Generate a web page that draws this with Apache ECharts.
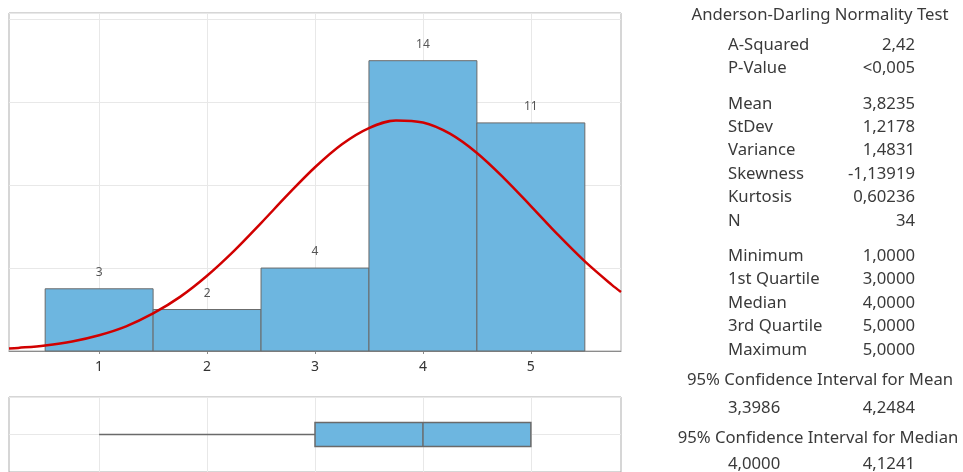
<!DOCTYPE html>
<html>
<head>
<meta charset="utf-8">
<script src="https://cdn.jsdelivr.net/npm/echarts@6/dist/echarts.min.js"></script>
<style>
  html, body { margin: 0; padding: 0; background: #fff; }
  #chart { width: 963px; height: 472px; }
</style>
</head>
<body>
<div id="chart"></div>
<script>
// histogram bins (centre, count)
const binCenters = [1, 2, 3, 4, 5];
const binCounts = [3, 2, 4, 14, 11];
const binWidth = 1;
const xTicks = [1, 2, 3, 4, 5];

// fitted normal curve
const curveX = [0.165, 0.25, 0.5, 0.75, 1, 1.25, 1.5, 1.75, 2, 2.25, 2.5, 2.75, 3, 3.25, 3.5, 3.75, 4, 4.25, 4.5, 4.75, 5, 5.25, 5.5, 5.75, 5.835];
const curveY = [0.12, 0.15, 0.27, 0.46, 0.76, 1.19, 1.81, 2.61, 3.63, 4.83, 6.17, 7.55, 8.86, 9.97, 10.75, 11.12, 11.02, 10.48, 9.55, 8.34, 6.99, 5.61, 4.32, 3.19, 2.85];

// boxplot: min, Q1, median, Q3, max
const boxStats = [1, 3, 4, 5, 5];

// summary panel
const testTitle = "Anderson-Darling Normality Test";
const statLabels = ["A-Squared", "P-Value", "Mean", "StDev", "Variance", "Skewness", "Kurtosis", "N",
  "Minimum", "1st Quartile", "Median", "3rd Quartile", "Maximum"];
const statValues = ["2,42", "<0,005", "3,8235", "1,2178", "1,4831", "-1,13919", "0,60236", "34",
  "1,0000", "3,0000", "4,0000", "5,0000", "5,0000"];
const statGroups = [0, 0, 1, 1, 1, 1, 1, 1, 2, 2, 2, 2, 2];
const ciMeanTitle = "95% Confidence Interval for Mean";
const ciMean = ["3,3986", "4,2484"];
const ciMedianTitle = "95% Confidence Interval for Median";
const ciMedian = ["4,0000", "4,1241"];

const FONT = '"Noto Sans", "Open Sans", sans-serif';
const PANEL_FONT = "16.7px " + FONT;
const TXT = "#3a3a3a";
const X_MIN = 0.165, X_MAX = 5.835;

const chart = echarts.init(document.getElementById("chart"));

// text panel on the right
const graphics = [];
const labelX = 728, valueX = 915, centerX = 820;
const addText = (text, x, y, align) => {
  graphics.push({ type: "text", x: x, y: y, style: { text: text, font: PANEL_FONT, fill: TXT, align: align, verticalAlign: "middle" } });
};
addText(testTitle, centerX, 15, "center");
statLabels.forEach((lab, i) => {
  const y = 45 + i * 23.4 + statGroups[i] * 12;
  addText(lab, labelX, y, "left");
  addText(statValues[i], valueX, y, "right");
});
addText(ciMeanTitle, centerX, 380, "center");
addText(ciMean[0], labelX, 408, "left");
addText(ciMean[1], valueX, 408, "right");
addText(ciMedianTitle, 818, 438, "center");
addText(ciMedian[0], labelX, 464, "left");
addText(ciMedian[1], valueX, 464, "right");

const option = {
  animation: false,
  backgroundColor: "#fff",
  grid: [
    { left: 9, top: 13, width: 612, height: 338, show: true, borderColor: "#adadad", borderWidth: 1, containLabel: false },
    { left: 9, top: 397, width: 612, height: 76, show: true, borderColor: "#adadad", borderWidth: 1, containLabel: false }
  ],
  xAxis: [
    {
      gridIndex: 0, type: "value", min: X_MIN, max: X_MAX,
      axisLine: { show: true, lineStyle: { color: "#8c8c8c", width: 1 } },
      axisTick: { show: true, length: 3, customValues: xTicks, lineStyle: { color: "#8c8c8c" } },
      axisLabel: { customValues: xTicks, margin: 9, fontSize: 14, fontFamily: FONT, color: "#333" },
      splitLine: { show: true, lineStyle: { color: "#e8e8e8", width: 1 } }
    },
    {
      gridIndex: 1, type: "value", min: X_MIN, max: X_MAX,
      axisLine: { show: false }, axisTick: { show: false, customValues: xTicks },
      axisLabel: { show: false, customValues: xTicks },
      splitLine: { show: true, lineStyle: { color: "#e8e8e8", width: 1 } }
    }
  ],
  yAxis: [
    {
      gridIndex: 0, type: "value", min: 0, max: 16.3, interval: 4,
      axisLine: { show: false }, axisTick: { show: false }, axisLabel: { show: false },
      splitLine: { show: true, lineStyle: { color: "#e8e8e8", width: 1 } }
    },
    {
      gridIndex: 1, type: "value", min: 0, max: 2, interval: 1,
      axisLine: { show: false }, axisTick: { show: false }, axisLabel: { show: false },
      splitLine: { show: true, lineStyle: { color: "#e8e8e8", width: 1 } }
    }
  ],
  graphic: graphics,
  series: [
    {
      type: "custom", xAxisIndex: 0, yAxisIndex: 0, z: 2,
      data: binCenters.map((c, i) => [c, binCounts[i]]),
      renderItem: (params, api) => {
        const c = api.value(0), n = api.value(1);
        const p0 = api.coord([c - binWidth / 2, n]);
        const p1 = api.coord([c + binWidth / 2, 0]);
        return {
          type: "group",
          children: [
            { type: "rect", shape: { x: p0[0], y: p0[1], width: p1[0] - p0[0], height: p1[1] - p0[1] },
              style: { fill: "#6db6e0", stroke: "#6a6a6a", lineWidth: 1 } },
            { type: "text", x: (p0[0] + p1[0]) / 2, y: p0[1] - 16,
              style: { text: String(n), font: "12px " + FONT, fill: "#555", align: "center", verticalAlign: "middle" } }
          ]
        };
      }
    },
    {
      type: "line", xAxisIndex: 0, yAxisIndex: 0, z: 5,
      data: curveX.map((x, i) => [x, curveY[i]]),
      smooth: 0.35, showSymbol: false, symbol: "none",
      lineStyle: { color: "#d10000", width: 2.5 }
    },
    {
      type: "custom", xAxisIndex: 1, yAxisIndex: 1, z: 3,
      data: [boxStats],
      renderItem: (params, api) => {
        const mn = api.value(0), q1 = api.value(1), md = api.value(2), q3 = api.value(3), mx = api.value(4);
        const half = 0.32;
        const a = api.coord([q1, 1 + half]);
        const b = api.coord([q3, 1 - half]);
        const w0 = api.coord([mn, 1]);
        const w1 = api.coord([q1, 1]);
        const w2 = api.coord([q3, 1]);
        const w3 = api.coord([mx, 1]);
        const m0 = api.coord([md, 1 + half]);
        const m1 = api.coord([md, 1 - half]);
        const st = { stroke: "#6a6a6a", lineWidth: 1.5 };
        return {
          type: "group",
          children: [
            { type: "line", shape: { x1: w0[0], y1: w0[1], x2: w1[0], y2: w1[1] }, style: st },
            { type: "line", shape: { x1: w2[0], y1: w2[1], x2: w3[0], y2: w3[1] }, style: st },
            { type: "rect", shape: { x: a[0], y: a[1], width: b[0] - a[0], height: b[1] - a[1] },
              style: { fill: "#6db6e0", stroke: "#6a6a6a", lineWidth: 1.5 } },
            { type: "line", shape: { x1: m0[0], y1: m0[1], x2: m1[0], y2: m1[1] }, style: st }
          ]
        };
      }
    }
  ]
};

chart.setOption(option);
window.addEventListener("resize", () => chart.resize());
</script>
</body>
</html>
